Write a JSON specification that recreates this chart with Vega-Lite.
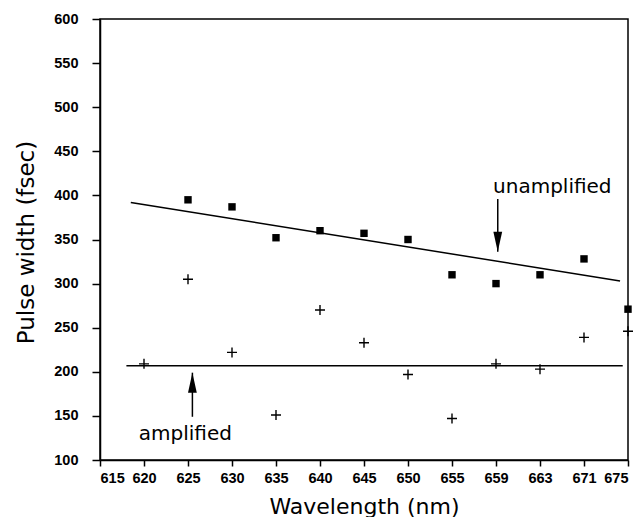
{
  "$schema": "https://vega.github.io/schema/vega-lite/v6.json",
  "width": 528,
  "height": 441,
  "autosize": "none",
  "padding": {"left": 100, "top": 19, "right": 14, "bottom": 57},
  "config": {
    "view": {"stroke": "black", "strokeWidth": 1.5},
    "font": "DejaVu Sans",
    "axis": {
      "grid": false,
      "domainColor": "black",
      "domainWidth": 1.5,
      "tickColor": "black",
      "tickWidth": 1.5,
      "labelColor": "black",
      "labelFont": "Liberation Sans",
      "labelFontSize": 14.5,
      "labelFontWeight": "bold",
      "titleColor": "black",
      "titleFont": "DejaVu Sans",
      "titleFontWeight": "normal"
    }
  },
  "datasets": {
    "points": [
      {"x": 625, "y": 395, "series": "unamplified"},
      {"x": 630, "y": 387, "series": "unamplified"},
      {"x": 635, "y": 352, "series": "unamplified"},
      {"x": 640, "y": 360, "series": "unamplified"},
      {"x": 645, "y": 357, "series": "unamplified"},
      {"x": 650, "y": 350, "series": "unamplified"},
      {"x": 655, "y": 310, "series": "unamplified"},
      {"x": 660, "y": 300, "series": "unamplified"},
      {"x": 665, "y": 310, "series": "unamplified"},
      {"x": 670, "y": 328, "series": "unamplified"},
      {"x": 675, "y": 271, "series": "unamplified"},
      {"x": 620, "y": 209, "series": "amplified"},
      {"x": 625, "y": 305, "series": "amplified"},
      {"x": 630, "y": 222, "series": "amplified"},
      {"x": 635, "y": 151, "series": "amplified"},
      {"x": 640, "y": 270, "series": "amplified"},
      {"x": 645, "y": 233, "series": "amplified"},
      {"x": 650, "y": 197, "series": "amplified"},
      {"x": 655, "y": 147, "series": "amplified"},
      {"x": 660, "y": 209, "series": "amplified"},
      {"x": 665, "y": 203, "series": "amplified"},
      {"x": 670, "y": 239, "series": "amplified"},
      {"x": 675, "y": 246, "series": "amplified"}
    ],
    "fits": [
      {"x": 618.5, "y": 392, "series": "unamplified"},
      {"x": 674.1, "y": 303, "series": "unamplified"},
      {"x": 618, "y": 207, "series": "amplified"},
      {"x": 674.4, "y": 207, "series": "amplified"}
    ],
    "arrows": [
      {"x": 660.2, "y": 396, "tip": 336, "dir": "down", "label": "unamplified", "lx": 666.4, "ly": 409.5},
      {"x": 625.5, "y": 149, "tip": 199, "dir": "up", "label": "amplified", "lx": 624.7, "ly": 129.5}
    ]
  },
  "layer": [
    {
      "data": {"name": "fits"},
      "mark": {"type": "line", "color": "black", "strokeWidth": 1.5},
      "encoding": {
        "x": {
          "field": "x", "type": "quantitative",
          "scale": {"domain": [615, 675], "nice": false, "zero": false},
          "axis": {
            "title": "Wavelength (nm)",
            "values": [615, 620, 625, 630, 635, 640, 645, 650, 655, 660, 665, 670, 675],
            "labelExpr": "datum.value == 660 ? '659' : datum.value == 665 ? '663' : datum.value == 670 ? '671' : datum.label",
            "tickSize": 6,
            "labelPadding": 5,
            "titleFontSize": 22,
            "titleBaseline": "alphabetic",
            "titleY": 53
          }
        },
        "y": {
          "field": "y", "type": "quantitative",
          "scale": {"domain": [100, 600], "nice": false, "zero": false},
          "axis": {
            "title": "Pulse width (fsec)",
            "values": [100, 150, 200, 250, 300, 350, 400, 450, 500, 550, 600],
            "tickSize": 8,
            "labelPadding": 14,
            "titleFontSize": 23,
            "titleBaseline": "alphabetic",
            "titleX": -67,
            "titleY": 223
          }
        },
        "detail": {"field": "series"}
      }
    },
    {
      "data": {"name": "points"},
      "transform": [{"filter": "datum.series == 'unamplified'"}],
      "mark": {"type": "point", "shape": "square", "filled": true, "color": "black", "size": 55, "opacity": 1},
      "encoding": {
        "x": {"field": "x", "type": "quantitative"},
        "y": {"field": "y", "type": "quantitative"}
      }
    },
    {
      "data": {"name": "points"},
      "transform": [{"filter": "datum.series == 'amplified'"}],
      "mark": {"type": "point", "shape": "M-1,0H1M0,-1V1", "filled": false, "color": "black", "strokeWidth": 1.4, "size": 100, "opacity": 1},
      "encoding": {
        "x": {"field": "x", "type": "quantitative"},
        "y": {"field": "y", "type": "quantitative"}
      }
    },
    {
      "data": {"name": "arrows"},
      "mark": {"type": "rule", "color": "black", "strokeWidth": 1.5},
      "encoding": {
        "x": {"field": "x", "type": "quantitative"},
        "y": {"field": "y", "type": "quantitative"},
        "y2": {"field": "tip"}
      }
    },
    {
      "data": {"name": "arrows"},
      "transform": [{"filter": "datum.dir == 'down'"}],
      "mark": {"type": "point", "shape": "M0,0L-0.22,-1L0.22,-1Z", "filled": true, "color": "black", "size": 1600, "opacity": 1},
      "encoding": {
        "x": {"field": "x", "type": "quantitative"},
        "y": {"field": "tip", "type": "quantitative"}
      }
    },
    {
      "data": {"name": "arrows"},
      "transform": [{"filter": "datum.dir == 'up'"}],
      "mark": {"type": "point", "shape": "M0,0L-0.22,1L0.22,1Z", "filled": true, "color": "black", "size": 1600, "opacity": 1},
      "encoding": {
        "x": {"field": "x", "type": "quantitative"},
        "y": {"field": "tip", "type": "quantitative"}
      }
    },
    {
      "data": {"name": "arrows"},
      "mark": {"type": "text", "color": "black", "fontSize": 20, "font": "DejaVu Sans", "align": "center", "baseline": "middle"},
      "encoding": {
        "x": {"field": "lx", "type": "quantitative"},
        "y": {"field": "ly", "type": "quantitative"},
        "text": {"field": "label"}
      }
    }
  ]
}
